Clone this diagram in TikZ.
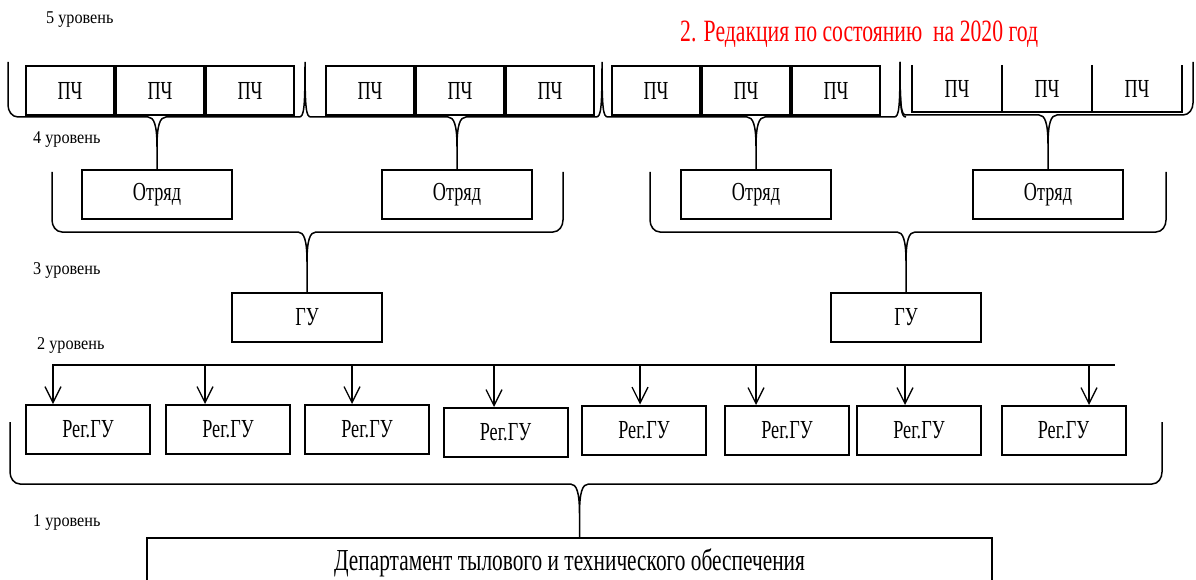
\documentclass[tikz,border=0pt]{standalone}
\usepackage{fontspec}
\setmainfont{Liberation Serif}[FakeStretch=0.7]
\newfontfamily\lvlfamily{Liberation Serif}[FakeStretch=0.9]
\usetikzlibrary{positioning,calc,arrows.meta}

\begin{document}
\begin{tikzpicture}[x=1pt, y=-1pt,
    box/.style={draw, line width=2pt, inner sep=0pt, font=\BOXFONT},
    pch/.style={box, minimum width=88pt, minimum height=49pt},
    otr/.style={box, minimum width=150pt, minimum height=49pt},
    reg/.style={box, minimum width=124pt, minimum height=49pt},
    brace/.style={line width=1.5pt},
    lvl/.style={anchor=west, inner sep=0pt, font=\LVLFONT},
    arr/.style={line width=1.3pt, -{Straight Barb[length=16pt, width=16pt]}}]

  \newcommand\BOXFONT{\fontsize{26}{28}\selectfont}
  \newcommand\LVLFONT{\lvlfamily\fontsize{18}{20}\selectfont}
  % cusp of a brace: bar at height #2, tip goes down to #1
  \newcommand\CuspIn[2]{-- ($(#1 |- 0,#2)+(-9,0)$) .. controls ($(#1 |- 0,#2)+(-3,0)$)
    and ($(#1 |- 0,#2)+(0,8)$) .. ($(#1 |- 0,#2)+(0,30)$) -- (#1)
    ($(#1 |- 0,#2)+(0,30)$) .. controls ($(#1 |- 0,#2)+(0,8)$) and ($(#1 |- 0,#2)+(3,0)$) .. ($(#1 |- 0,#2)+(9,0)$)}
  % peak between two braces at x #1, bar #2, top #3
  \newcommand\Peak[3]{-- (#1-6,#2) .. controls (#1-1,#2) and (#1,#2-8) .. (#1,#3)
    .. controls (#1,#2-8) and (#1+1,#2) .. (#1+6,#2)}

  \useasboundingbox (0,0) rectangle (1196,580);

  % level labels
  \node[lvl] (l5) at (46,20) {5 уровень};
  \node[lvl] (l4) at (33,140) {4 уровень};
  \node[lvl] (l3) at (33,270) {3 уровень};
  \node[lvl] (l2) at (37,345) {2 уровень};
  \node[lvl] (l1) at (33,522) {1 уровень};

  \node[anchor=west, inner sep=0pt, text=red, font=\fontsize{31}{33}\selectfont] (title) at (680,34)
    {2. Редакция по состоянию\ \ на 2020 год};

  % 5 level
  \node[pch] (p11) at (70,90.5) {ПЧ};
  \node[pch, right=0pt of p11] (p12) {ПЧ};
  \node[pch, right=0pt of p12] (p13) {ПЧ};

  \node[pch] (p21) at (370,90.5) {ПЧ};
  \node[pch, right=0pt of p21] (p22) {ПЧ};
  \node[pch, right=0pt of p22] (p23) {ПЧ};

  \node[pch] (p31) at (656,90.5) {ПЧ};
  \node[pch, right=0pt of p31] (p32) {ПЧ};
  \node[pch, right=0pt of p32] (p33) {ПЧ};

  \node[pch, draw=none, minimum height=45pt] (p41) at (957,88.5) {ПЧ};
  \node[pch, draw=none, minimum height=45pt, right=0pt of p41] (p42) {ПЧ};
  \node[pch, draw=none, minimum height=45pt, right=0pt of p42] (p43) {ПЧ};
  \draw[line width=1.6pt] (p41.north west) |- (p43.south east) -- (p43.north east);
  \draw[line width=1.6pt] (p41.north east) -- (p41.south east);
  \draw[line width=1.6pt] (p42.north east) -- (p42.south east);

  % 4 level
  \node[otr] (o1) at (157,194.5) {Отряд};
  \node[otr] (o2) at (457,194.5) {Отряд};
  \node[otr] (o3) at (756,194.5) {Отряд};
  \node[otr] (o4) at (1048,194.5) {Отряд};

  \draw[brace] (8,62) -- (8,105) to[out=-90,in=180] (18,117) \CuspIn{o1.north}{117}
    \Peak{305}{117}{62} \CuspIn{o2.north}{117}
    \Peak{602}{117}{62} \CuspIn{o3.north}{117}
    \Peak{900}{117}{62};
  \draw[brace] (900,62) .. controls (900,107) and (901,115) .. (906,115) \CuspIn{o4.north}{115}
    -- (1183,115) to[out=0,in=-90] (1193,103) -- (1193,62);

  % 3 level
  \node[otr] (g1) at (307,317.5) {ГУ};
  \node[otr] (g2) at (906,317.5) {ГУ};

  \draw[brace] (52,172) -- (52,220) to[out=-90,in=180] (62,232) \CuspIn{g1.north}{232}
    -- (553,232) to[out=0,in=-90] (563,220) -- (563,172);
  \draw[brace] (650,172) -- (650,220) to[out=-90,in=180] (660,232) \CuspIn{g2.north}{232}
    -- (1156,232) to[out=0,in=-90] (1166,220) -- (1166,172);

  % 2 level
  \node[reg] (r1) at (88,429.5) {Рег.ГУ};
  \node[reg] (r2) at (228,429.5) {Рег.ГУ};
  \node[reg] (r3) at (367,429.5) {Рег.ГУ};
  \node[reg] (r4) at (505.5,432.5) {Рег.ГУ};
  \node[reg] (r5) at (644,430) {Рег.ГУ};
  \node[reg] (r6) at (787,430.5) {Рег.ГУ};
  \node[reg] (r7) at (919,430.5) {Рег.ГУ};
  \node[reg] (r8) at (1063.5,430.5) {Рег.ГУ};

  \coordinate (bl) at (52,365);
  \coordinate (br) at (1115,365);
  \draw[line width=1.5pt] (bl) -- (br);
  \foreach \n/\x in {1/53, 2/205, 3/352, 4/494, 5/640, 6/756, 7/905, 8/1089}
    \draw[arr] (bl -| \x,0) -- (r\n.north -| \x,0);

  % 1 level
  \node[box, font=\fontsize{30.5}{32}\selectfont, minimum width=845pt, minimum height=50pt, anchor=north]
    (dept) at (569.5,537) {Департамент тылового и технического обеспечения};
  \coordinate (dtop) at ([xshift=10pt]dept.north);

  \draw[brace] (10,422) -- (10,472) to[out=-90,in=180] (20,484) \CuspIn{dtop}{484}
    -- (1152,484) to[out=0,in=-90] (1162,472) -- (1162,422);

\end{tikzpicture}
\end{document}
